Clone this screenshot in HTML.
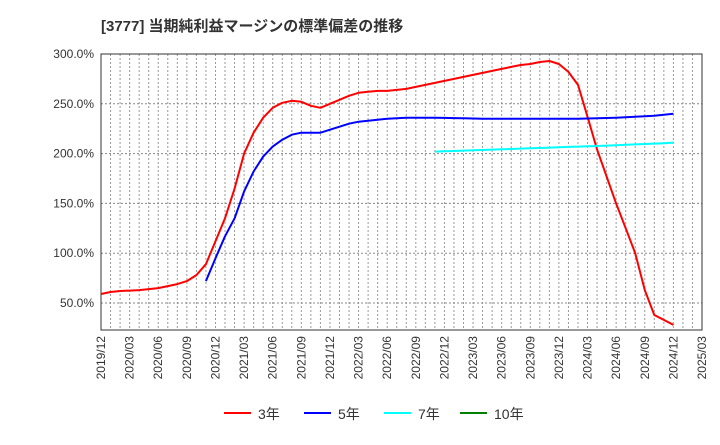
<!DOCTYPE html>
<html><head><meta charset="utf-8"><style>
body{margin:0;background:#fff;font-family:"Liberation Sans","Noto Sans CJK JP",sans-serif;}
</style></head><body>
<svg width="720" height="440" xmlns="http://www.w3.org/2000/svg" id="c" font-family="Liberation Sans, Noto Sans CJK JP, sans-serif">
<text x="101" y="31" font-size="15" font-weight="bold" fill="#333">[3777]  当期純利益マージンの標準偏差の推移</text>
</svg>
<script>
const months = 63;
const yTicks = [50,100,150,200,250,300];
const s3 = [59,61,62,62.5,63,64,65,67,69,72,78,89,112,135,165,200,221,236,246,251,253,252,248,246,250,254,258,261,262,263,263,264,265,267,269,271,273,275,277,279,281,283,285,287,289,290,292,293,290,282,269,237,204,177,150,125,100,63,38,33,28];
const s5 = [null,null,null,null,null,null,null,null,null,null,null,72,95,117,135,162,182,197,207,214,219,221,221,221,224,227,230,232,233,234,235,235.5,236,236,236,236,235.8,235.6,235.4,235.2,235,235,235,235,235,235,235,235,235,235,235,235.2,235.5,235.7,236,236.5,237,237.5,238,239,240];
const s7 = [];
for(let i=0;i<35;i++) s7.push(null);
const s7vals = [202,202.3,202.6,203,203.3,203.6,204,204.3,204.6,205,205.3,205.6,206,206.3,206.7,207,207.3,207.6,208,208.4,208.8,209.2,209.6,210,210.4,211];
const xl = ["2019/12","2020/03","2020/06","2020/09","2020/12","2021/03","2021/06","2021/09","2021/12","2022/03","2022/06","2022/09","2022/12","2023/03","2023/06","2023/09","2023/12","2024/03","2024/06","2024/09","2024/12","2025/03"];
const series = [[s3,"#ff0000","3yr"],[s5,"#0000ff","5yr"],[s7.concat(s7vals),"#00ffff","7yr"]];
const L=101,R=702,T=54,B=330;
const X = i => L + i*(R-L)/months;
const Y = v => 303 - (v-50)*(303-54)/250;
const svg=document.getElementById('c');
const NS="http://www.w3.org/2000/svg";
function mk(t,a){const e=document.createElementNS(NS,t);for(const k in a)e.setAttribute(k,a[k]);svg.appendChild(e);return e;}
for(let i=1;i<months;i++){
  const g=mk('line',{x1:X(i),x2:X(i),y1:T,y2:B,stroke:'#999','stroke-dasharray':'2,2','stroke-width':1});
  
  
}
yTicks.forEach(v=>{
  const g=mk('line',{x1:L,x2:R,y1:Y(v),y2:Y(v),stroke:'#888','stroke-dasharray':'2,2','stroke-width':1});
  
  
  const t=mk('text',{x:94,y:Y(v)+4,'text-anchor':'end','font-size':12,fill:'#333'});
  t.textContent=v.toFixed(1)+'%';
  
  
});
const f=mk('rect',{x:L,y:T,width:R-L,height:B-T,fill:'none',stroke:'#333','stroke-width':1});


xl.forEach((s,k)=>{
  const x=X(k*3);
  const t=mk('text',{x:0,y:0,'text-anchor':'end','font-size':12,fill:'#333',transform:`translate(${x+4},336) rotate(-90)`});
  t.textContent=s;
  
  
});
series.forEach(([d,c,n])=>{
  let p='';d.forEach((v,i)=>{if(v!=null)p+=(p?'L':'M')+X(i).toFixed(1)+','+Y(v).toFixed(1);});
  const e=mk('path',{d:p,fill:'none',stroke:c,'stroke-width':2,'stroke-linejoin':'round'});
  
  
});
const leg=[["3年","#ff0000",224],["5年","#0000ff",304],["7年","#00ffff",384],["10年","#008000",460]];
leg.forEach(([s,c,x])=>{
  const l=mk('line',{x1:x,x2:x+27,y1:413,y2:413,stroke:c,'stroke-width':2});
  
  
  const t=mk('text',{x:x+34,y:419,'font-size':14,fill:'#333'});
  t.textContent=s;
  
  
});
</script>
</body></html>
